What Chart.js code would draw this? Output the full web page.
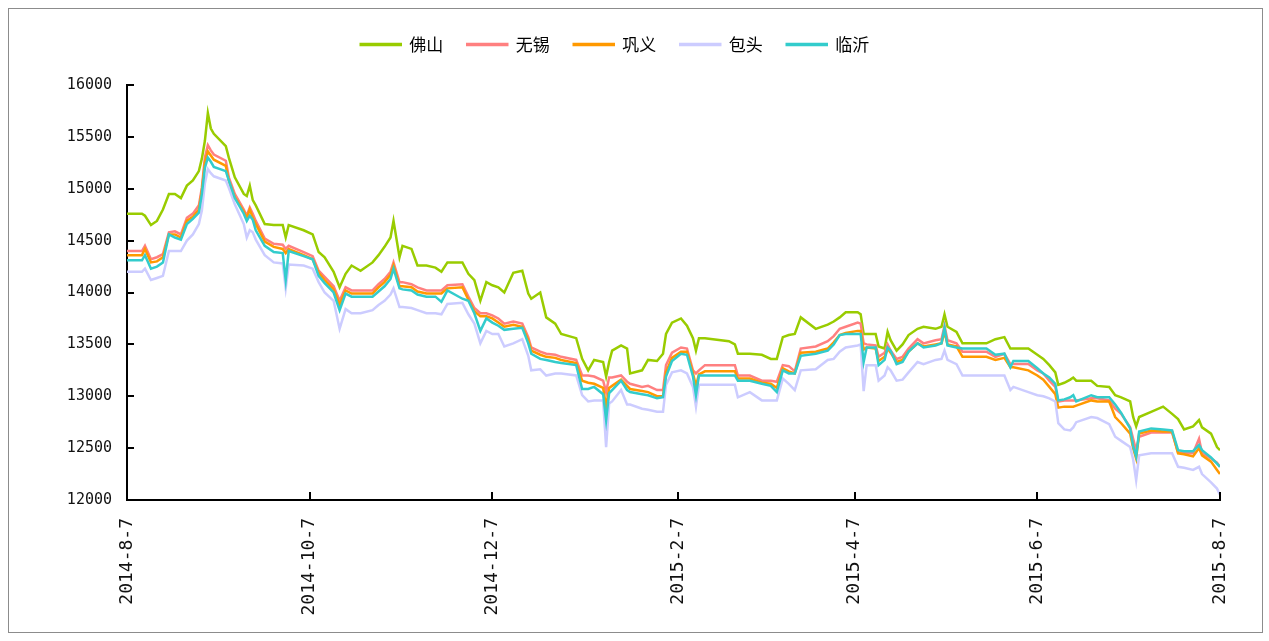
<!DOCTYPE html>
<html>
<head>
<meta charset="utf-8">
<script src="https://cdn.jsdelivr.net/npm/chart.js@4.4.0/dist/chart.umd.min.js"></script>
<style>
    html, body { margin: 0; padding: 0; background: #fff; }
    #wrap { position: relative; width: 1269px; height: 641px; }
    #frame { position: absolute; left: 8px; top: 8px; width: 1253px; height: 623px; border: 1px solid #8c8c8c; pointer-events: none; }
</style>
</head>
<body>
<div id="wrap">
    <canvas id="myChart" width="1269" height="641"></canvas>
    <div id="frame"></div>
</div>
<script>
// days counted from 2014-8-7
const days = [0, 5, 6, 8, 10, 12, 14, 16, 18, 20, 22, 24, 25, 26, 27, 28, 29, 33, 34, 36, 39, 40, 41, 42, 43, 46, 49, 52, 53, 54, 59,
    62, 64, 66, 69, 71, 73, 75, 78, 82, 84, 86, 88, 89, 91, 92, 95, 97, 100, 103, 105, 107, 112, 114, 116, 118, 120, 122,
    124, 126, 129, 132, 134, 135, 138, 140, 143, 145, 150, 152, 154, 156, 159, 160, 161, 162, 165, 167, 168, 172, 174, 177, 179, 180, 182, 185,
    187, 189, 190, 191, 193, 201, 203, 204, 208, 212, 215, 217, 219, 221, 223, 225, 230, 234, 236, 238, 240, 244, 245,
    246, 247, 250, 251, 253, 254, 255, 257, 259, 261, 264, 266, 270, 272, 273, 274, 277, 279, 287, 290, 293, 295, 296, 301, 304,
    306, 308, 310, 311, 313, 315, 316, 317, 322, 324, 328, 330, 332, 335, 336, 337, 338, 342, 346, 349, 351, 353, 356, 358, 359, 362, 364, 365];

const foshan = [14760, 14760, 14740, 14650, 14690, 14800, 14950, 14950, 14910, 15030, 15080, 15170, 15290, 15460, 15730, 15580, 15530, 15410, 15300, 15110, 14950, 14930, 15030, 14890, 14840, 14660, 14650, 14650, 14530, 14650, 14600,
    14560, 14390, 14340, 14200, 14050, 14180, 14260, 14210, 14290, 14360, 14440, 14530, 14690, 14340, 14450, 14420, 14260, 14260, 14240, 14200, 14290, 14290, 14180, 14120, 13920, 14100, 14070,
    14050, 14000, 14190, 14210, 13990, 13940, 14000, 13760, 13700, 13600, 13560, 13360, 13250, 13350, 13330, 13190, 13330, 13440, 13490, 13460, 13220, 13250, 13350, 13340, 13410, 13600, 13710, 13750,
    13680, 13560, 13440, 13560, 13560, 13530, 13500, 13410, 13410, 13400, 13360, 13360, 13570, 13590, 13600, 13760, 13650, 13690, 13720, 13760, 13810, 13810, 13790,
    13600, 13600, 13600, 13480, 13460, 13620, 13540, 13440, 13500, 13590, 13650, 13670, 13650, 13670, 13790, 13670, 13620, 13510, 13510, 13550, 13570, 13460, 13460, 13460, 13400,
    13360, 13300, 13230, 13110, 13130, 13160, 13180, 13150, 13150, 13100, 13090, 13010, 12990, 12950, 12800, 12710, 12800, 12850, 12900, 12830, 12780, 12680, 12710, 12770, 12700, 12640, 12510, 12480];

const wuxi = [14400, 14400, 14450, 14320, 14340, 14370, 14580, 14590, 14560, 14720, 14760, 14840, 15010, 15300, 15420, 15370, 15330, 15270, 15110, 14950, 14800, 14740, 14820, 14760, 14690, 14520, 14470, 14460, 14420, 14450, 14390,
    14350, 14210, 14150, 14060, 13920, 14050, 14020, 14020, 14020, 14080, 14130, 14200, 14290, 14100, 14100, 14080, 14050, 14020, 14020, 14020, 14070, 14080, 13960, 13850, 13800, 13800, 13780,
    13750, 13700, 13720, 13700, 13570, 13470, 13430, 13410, 13400, 13380, 13350, 13200, 13200, 13190, 13150, 13040, 13180, 13180, 13200, 13140, 13120, 13090, 13100, 13060, 13060, 13300, 13420, 13470,
    13460, 13250, 13220, 13250, 13300, 13300, 13300, 13200, 13200, 13150, 13150, 13140, 13300, 13290, 13240, 13460, 13480, 13530, 13580, 13650, 13670, 13710, 13700,
    13510, 13500, 13490, 13380, 13420, 13500, 13440, 13360, 13380, 13460, 13550, 13510, 13540, 13550, 13680, 13540, 13510, 13430, 13430, 13380, 13410, 13310, 13310, 13310, 13250,
    13220, 13150, 13090, 12950, 12960, 12960, 12960, 12960, 12980, 12980, 12960, 12880, 12830, 12700, 12590, 12480, 12610, 12650, 12650, 12650, 12460, 12450, 12450, 12590, 12450, 12400, 12360, 12320];

const gongyi = [14360, 14360, 14420, 14290, 14300, 14340, 14560, 14560, 14530, 14690, 14730, 14800, 14980, 15250, 15360, 15320, 15280, 15220, 15080, 14920, 14780, 14720, 14800, 14720, 14660, 14490, 14440, 14420, 14380, 14420, 14360,
    14320, 14190, 14120, 14030, 13880, 14020, 13990, 13990, 13990, 14050, 14100, 14170, 14260, 14060, 14060, 14050, 14010, 13990, 13990, 13990, 14040, 14050, 13930, 13820, 13770, 13770, 13750,
    13710, 13670, 13690, 13670, 13540, 13440, 13400, 13380, 13370, 13350, 13320, 13150, 13130, 13120, 13080, 12900, 13080, 13100, 13160, 13100, 13070, 13050, 13040, 13000, 13000, 13230, 13370, 13430,
    13430, 13220, 13100, 13210, 13240, 13240, 13240, 13170, 13170, 13130, 13120, 13080, 13270, 13240, 13220, 13420, 13430, 13460, 13520, 13590, 13610, 13630, 13630,
    13450, 13470, 13460, 13340, 13380, 13460, 13420, 13330, 13350, 13430, 13510, 13480, 13500, 13510, 13620, 13500, 13480, 13380, 13380, 13350, 13370, 13280, 13280, 13250, 13200,
    13160, 13090, 13020, 12890, 12900, 12900, 12900, 12910, 12960, 12950, 12950, 12800, 12740, 12640, 12500, 12400, 12640, 12670, 12660, 12660, 12450, 12440, 12420, 12500, 12430, 12370, 12290, 12250];

const baotou = [14200, 14200, 14230, 14120, 14140, 14160, 14400, 14400, 14400, 14500, 14560, 14660, 14790, 15050, 15190, 15150, 15120, 15080, 15010, 14850, 14660, 14530, 14600, 14580, 14510, 14360, 14290, 14280, 14040, 14270, 14260,
    14230, 14100, 14000, 13920, 13650, 13840, 13800, 13800, 13830, 13880, 13920, 13980, 14040, 13860, 13860, 13850, 13830, 13800, 13800, 13790, 13890, 13900, 13790, 13700, 13510, 13630, 13600,
    13600, 13480, 13510, 13550, 13390, 13250, 13260, 13200, 13220, 13220, 13200, 13010, 12950, 12960, 12960, 12510, 12930, 12950, 13060, 12920, 12920, 12880, 12870, 12850, 12850, 13110, 13230, 13250,
    13220, 13090, 12900, 13110, 13110, 13110, 13110, 12990, 13040, 12960, 12960, 12960, 13170, 13120, 13060, 13250, 13260, 13350, 13360, 13430, 13470, 13490, 13500,
    13050, 13300, 13300, 13150, 13200, 13280, 13250, 13150, 13160, 13230, 13330, 13310, 13350, 13360, 13440, 13350, 13310, 13200, 13200, 13200, 13200, 13060, 13090, 13040, 13010,
    13000, 12980, 12950, 12740, 12680, 12670, 12700, 12750, 12800, 12790, 12730, 12610, 12570, 12510, 12390, 12190, 12430, 12450, 12450, 12450, 12320, 12310, 12290, 12320, 12250, 12170, 12110, 12050];

const linyi = [14310, 14310, 14360, 14230, 14250, 14290, 14560, 14530, 14510, 14660, 14710, 14770, 14950, 15200, 15300, 15260, 15210, 15170, 15080, 14910, 14760, 14690, 14740, 14700, 14600, 14450, 14390, 14380, 14120, 14400, 14350,
    14320, 14160, 14090, 14000, 13830, 13990, 13960, 13960, 13960, 14010, 14060, 14130, 14230, 14040, 14030, 14020, 13980, 13960, 13960, 13910, 14020, 13940, 13920, 13800, 13630, 13750, 13710,
    13680, 13640, 13650, 13660, 13510, 13410, 13360, 13350, 13330, 13320, 13300, 13070, 13070, 13090, 13020, 12770, 13030, 13060, 13150, 13060, 13040, 13020, 13010, 12980, 12990, 13190, 13340, 13410,
    13400, 13190, 13010, 13200, 13200, 13200, 13200, 13150, 13150, 13120, 13100, 13040, 13250, 13220, 13220, 13390, 13410, 13440, 13500, 13590, 13600, 13600, 13600,
    13330, 13470, 13470, 13300, 13350, 13470, 13440, 13310, 13330, 13430, 13510, 13470, 13490, 13510, 13660, 13490, 13470, 13460, 13460, 13400, 13410, 13280, 13340, 13340, 13270,
    13220, 13180, 13120, 12960, 12970, 12990, 13010, 12950, 13010, 12990, 12990, 12920, 12840, 12690, 12520, 12420, 12660, 12690, 12680, 12670, 12480, 12470, 12470, 12530, 12480, 12410, 12350, 12320];

const tickDays = [0, 61, 122, 184, 243, 304, 365];
const tickLabels = ['2014-8-7', '2014-10-7', '2014-12-7', '2015-2-7', '2015-4-7', '2015-6-7', '2015-8-7'];

const seriesNames = ['佛山', '无锡', '巩义', '包头', '临沂'];
const seriesColors = ['#99cc00', '#ff8080', '#ff9900', '#ccccff', '#33cccc'];
const seriesValues = [foshan, wuxi, gongyi, baotou, linyi];

// inward tick marks like the original
const tickMarks = {
    id: 'tickMarks',
    afterDatasetsDraw(chart) {
        const { ctx, chartArea, scales } = chart;
        ctx.save();
        ctx.strokeStyle = '#000';
        ctx.lineWidth = 2;
        ctx.beginPath();
        scales.y.ticks.forEach(t => {
            const y = Math.round(scales.y.getPixelForValue(t.value));
            ctx.moveTo(chartArea.left, y);
            ctx.lineTo(chartArea.left + 7, y);
        });
        scales.x.ticks.forEach(t => {
            const x = Math.round(scales.x.getPixelForValue(t.value));
            ctx.moveTo(x, chartArea.bottom);
            ctx.lineTo(x, chartArea.bottom - 8);
        });
        ctx.stroke();
        ctx.restore();
    }
};

// extra room under the legend
const legendGap = {
    id: 'legendGap',
    beforeInit(chart) {
        const fit = chart.legend.fit;
        chart.legend.fit = function() {
            fit.call(this);
            this.height += 22;
        };
    }
};

document.addEventListener("DOMContentLoaded", function() {
    const ctx = document.getElementById('myChart').getContext('2d');
    const myChart = new Chart(ctx, {
        type: 'line',
        data: {
            datasets: seriesNames.map((name, i) => ({
                label: name,
                data: seriesValues[i].map((v, j) => ({ x: days[j], y: v })),
                borderColor: seriesColors[i],
                backgroundColor: seriesColors[i],
                borderWidth: 2.5,
                pointRadius: 0,
                tension: 0,
                order: seriesNames.length - i
            }))
        },
        options: {
            responsive: false,
            animation: false,
            devicePixelRatio: 1,
            layout: { padding: { left: 10, right: 49, top: 12, bottom: 21 } },
            scales: {
                x: {
                    type: 'linear',
                    min: 0,
                    max: 365,
                    afterBuildTicks: scale => { scale.ticks = tickDays.map(v => ({ value: v })); },
                    afterFit: scale => { scale.height = 120; },
                    grid: { display: false },
                    border: { display: true, color: '#000', width: 2 },
                    ticks: {
                        autoSkip: false,
                        maxRotation: 90,
                        minRotation: 90,
                        padding: 10,
                        color: '#111',
                        font: { family: 'DejaVu Sans Mono', size: 18 },
                        callback: v => tickLabels[tickDays.indexOf(v)]
                    }
                },
                y: {
                    min: 12000,
                    max: 16000,
                    afterFit: scale => { scale.width = 117; },
                    grid: { display: false },
                    border: { display: true, color: '#000', width: 2 },
                    ticks: {
                        stepSize: 500,
                        padding: 7,
                        color: '#111',
                        font: { family: 'DejaVu Sans Mono', size: 15 },
                        callback: v => String(v)
                    }
                }
            },
            plugins: {
                legend: {
                    display: true,
                    position: 'top',
                    labels: {
                        boxWidth: 40,
                        boxHeight: 1,
                        padding: 24,
                        color: '#000',
                        font: { family: '"Noto Sans CJK SC"', size: 17 },
                        sort: (a, b) => a.datasetIndex - b.datasetIndex
                    }
                },
                tooltip: { enabled: false }
            }
        },
        plugins: [tickMarks, legendGap]
    });
});
</script>
</body>
</html>
